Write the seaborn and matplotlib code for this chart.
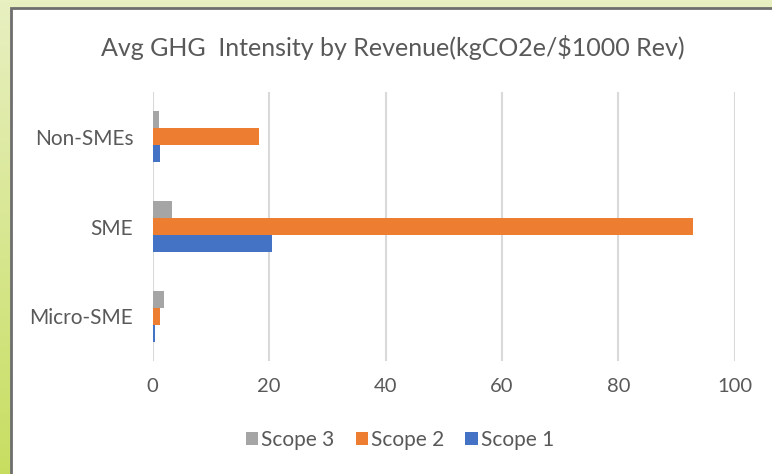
import numpy as np
import pandas as pd
import matplotlib
matplotlib.use("Agg")
import matplotlib.pyplot as plt
import seaborn as sns
from matplotlib.patches import Rectangle

# ---- data ----
categories = ["Non-SMEs", "SME", "Micro-SME"]
series_names = ["Scope 3", "Scope 2", "Scope 1"]
scope3 = [1.0, 3.3, 1.9]
scope2 = [18.3, 92.9, 1.3]
scope1 = [1.3, 20.5, 0.4]
x_ticks = [0, 20, 40, 60, 80, 100]
title = "Avg GHG  Intensity by Revenue(kgCO2e/$1000 Rev)"
colors = {"Scope 3": "#A5A5A5", "Scope 2": "#ED7D31", "Scope 1": "#4472C4"}

df = pd.DataFrame({
    "category": categories * 3,
    "series": [s for s in series_names for _ in categories],
    "value": scope3 + scope2 + scope1,
})

sns.set_theme(style="white")
plt.rcParams["font.family"] = ["Lato", "DejaVu Sans"]
text_color = "#595959"

W, H = 772, 474
fig = plt.figure(figsize=(W / 100, H / 100), dpi=100)

# background green frame
bg = fig.add_axes([0, 0, 1, 1], zorder=-10)
yy = np.linspace(0, 1, 200)[:, None]
xx = np.linspace(0, 1, 300)[None, :]
top = np.array([0.91, 0.94, 0.76])
bot = np.array([0.78, 0.87, 0.38])
img = top[None, None, :] * (1 - yy[..., None]) + bot[None, None, :] * yy[..., None]
img = img + 0 * xx[..., None]
bg.imshow(img, aspect="auto", extent=[0, W, H, 0])
bg.add_patch(Rectangle((11, 8), W, H, facecolor="white", edgecolor="#6e6e6e", linewidth=2))
bg.set_xlim(0, W)
bg.set_ylim(H, 0)
bg.axis("off")

ax = fig.add_axes([152.7 / W, 1 - 361 / H, 582 / W, 269 / H])
ax.set_facecolor("none")
sns.barplot(data=df, y="category", x="value", hue="series",
            order=categories, hue_order=series_names, palette=colors,
            orient="h", width=0.57, dodge=True, ax=ax, saturation=1,
            linewidth=0, zorder=3)

ax.set_xlim(0, 100)
ax.set_ylim(2.5, -0.5)
ax.set_xticks(x_ticks)
ax.set_xticklabels([str(t) for t in x_ticks])
ax.grid(axis="x", color="#D9D9D9", linewidth=1.5, zorder=0)
ax.set_axisbelow(True)
for s in ax.spines.values():
    s.set_visible(False)
ax.set_xlabel("")
ax.set_ylabel("")
ax.tick_params(axis="x", colors=text_color, labelsize=14.5, length=0, pad=12)
ax.tick_params(axis="y", colors=text_color, labelsize=15, length=0, pad=14)
for lbl in ax.get_xticklabels() + ax.get_yticklabels():
    lbl.set_color(text_color)

handles, labels = ax.get_legend_handles_labels()
ax.get_legend().remove()
fig.legend(handles, labels, loc="center", bbox_to_anchor=(400 / W, 1 - 440 / H),
           ncol=3, frameon=False, fontsize=15, handlelength=0.6, handleheight=0.6,
           handletextpad=0.15, columnspacing=1.0, labelcolor=text_color)

fig.text(393 / W, 1 - 47 / H, title, ha="center", va="center",
         fontsize=18, color=text_color)

fig.savefig("out.png", dpi=100)
